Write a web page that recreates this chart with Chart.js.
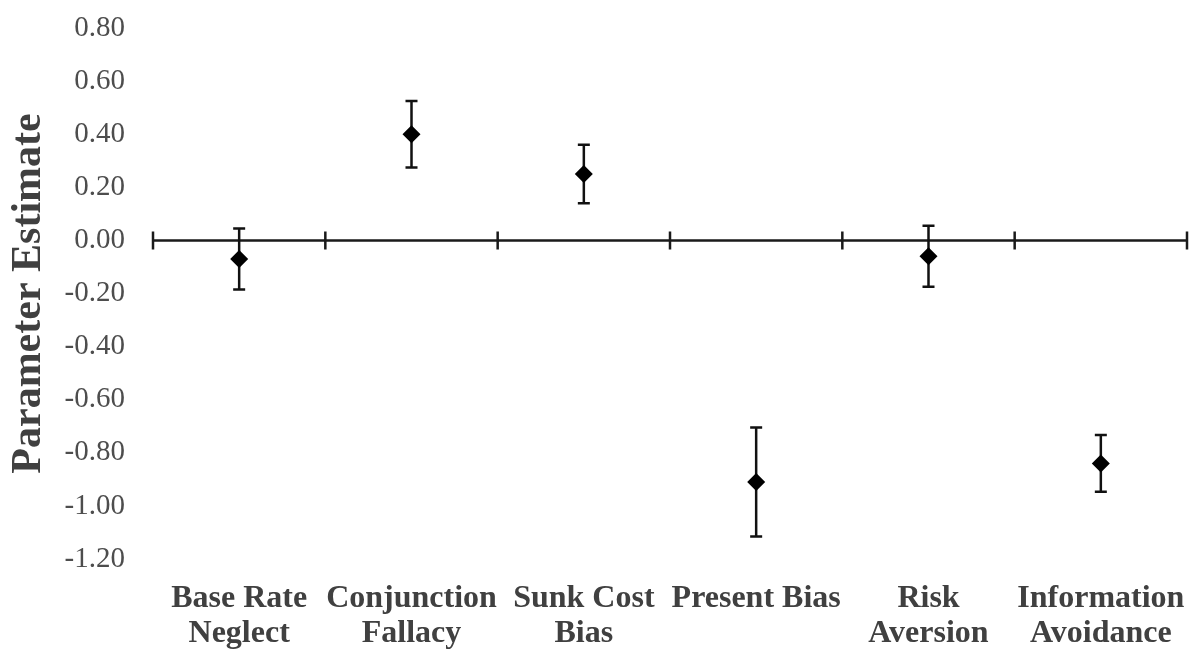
<!DOCTYPE html>
<html>
<head>
<meta charset="utf-8">
<script src="https://cdn.jsdelivr.net/npm/chart.js@4"></script>
<style>
  html, body { margin: 0; padding: 0; background: #fff; }
  #wrap { width: 1189px; height: 649px; }
</style>
</head>
<body>
<div id="wrap"><canvas id="chart"></canvas></div>
<script>
// values
const categories = [
    ['Base Rate', 'Neglect'],
    ['Conjunction', 'Fallacy'],
    ['Sunk Cost', 'Bias'],
    'Present Bias',
    ['Risk', 'Aversion'],
    ['Information', 'Avoidance']
];
const estimates = [-0.07, 0.40, 0.25, -0.91, -0.06, -0.84];
const errors = [0.115, 0.125, 0.11, 0.205, 0.115, 0.107];
const yTicks = [-1.2, -1.0, -0.8, -0.6, -0.4, -0.2, 0, 0.2, 0.4, 0.6, 0.8];

const serif = "'Liberation Serif', 'Times New Roman', serif";

// horizontal axis at zero, with tick marks crossing it between categories
const zeroAxis = {
    id: 'zeroAxis',
    beforeDatasetsDraw(chart) {
        const { ctx, chartArea, scales: { x, y } } = chart;
        const y0 = y.getPixelForValue(0);
        ctx.save();
        ctx.strokeStyle = '#1a1a1a';
        ctx.lineWidth = 2.5;
        ctx.beginPath();
        ctx.moveTo(chartArea.left, y0);
        ctx.lineTo(chartArea.right, y0);
        for (let i = 0; i <= categories.length; i++) {
            const px = x.getPixelForValue(i - 0.5);
            ctx.moveTo(px, y0 - 9);
            ctx.lineTo(px, y0 + 9);
        }
        ctx.stroke();
        ctx.restore();
    }
};

// error bars with caps
const errorBars = {
    id: 'errorBars',
    beforeDatasetsDraw(chart) {
        const { ctx, scales: { x, y } } = chart;
        ctx.save();
        ctx.strokeStyle = '#111';
        ctx.lineWidth = 2.5;
        estimates.forEach((v, i) => {
            const px = x.getPixelForValue(i);
            const top = y.getPixelForValue(v + errors[i]);
            const bot = y.getPixelForValue(v - errors[i]);
            ctx.beginPath();
            ctx.moveTo(px, top);
            ctx.lineTo(px, bot);
            ctx.moveTo(px - 6, top);
            ctx.lineTo(px + 6, top);
            ctx.moveTo(px - 6, bot);
            ctx.lineTo(px + 6, bot);
            ctx.stroke();
        });
        ctx.restore();
    }
};

new Chart(document.getElementById('chart'), {
    type: 'line',
    data: {
        labels: categories,
        datasets: [{
            data: estimates,
            showLine: false,
            pointStyle: 'rectRot',
            pointRadius: 9,
            pointBackgroundColor: '#000',
            pointBorderWidth: 0
        }]
    },
    options: {
        responsive: true,
        maintainAspectRatio: false,
        animation: false,
        layout: { autoPadding: false, padding: { top: 28, right: 2, left: 0, bottom: 0 } },
        plugins: {
            legend: { display: false },
            tooltip: { enabled: false }
        },
        scales: {
            x: {
                offset: true,
                grid: { display: false, drawTicks: false },
                border: { display: false },
                ticks: {
                    color: '#404040',
                    font: { family: serif, size: 32, weight: 'bold', lineHeight: 1.1 },
                    padding: 22,
                    maxRotation: 0,
                    autoSkip: false
                },
                afterFit: (scale) => {
                    scale.height = 90;
                    scale.paddingLeft = 0;
                    scale.paddingRight = 0;
                }
            },
            y: {
                min: -1.2,
                max: 0.8,
                afterBuildTicks: (scale) => {
                    scale.ticks = yTicks.map(v => ({ value: v }));
                },
                grid: { display: false, drawTicks: false },
                border: { display: false },
                ticks: {
                    color: '#4d4d4d',
                    font: { family: serif, size: 29 },
                    padding: 28,
                    callback: (v) => v.toFixed(2)
                },
                title: {
                    display: true,
                    text: 'Parameter Estimate',
                    color: '#404040',
                    font: { family: serif, size: 42, weight: 'bold' },
                    padding: { top: 4, bottom: 0 }
                },
                afterFit: (scale) => {
                    scale.width = 153;
                    scale.paddingTop = 0;
                    scale.paddingBottom = 0;
                }
            }
        }
    },
    plugins: [zeroAxis, errorBars]
});
</script>
</body>
</html>
